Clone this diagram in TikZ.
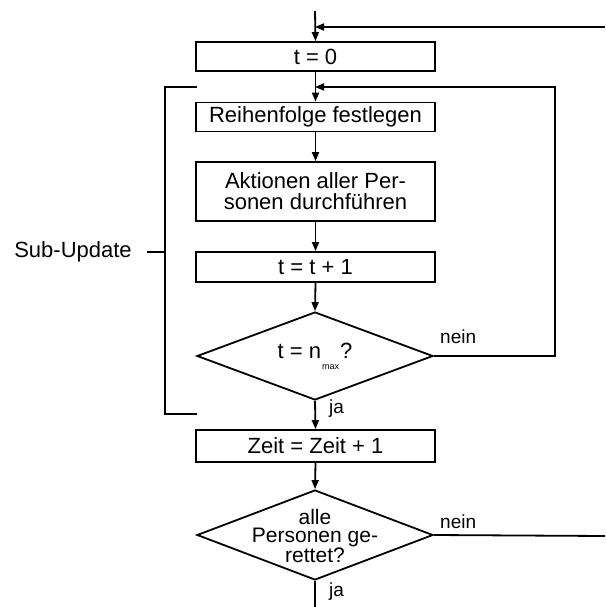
\documentclass[tikz,border=0pt]{standalone}
\usepackage{fontspec}
\setmainfont{Liberation Sans}
\usetikzlibrary{shapes.geometric,arrows.meta}
\begin{document}
\begin{tikzpicture}[x=1pt,y=-1pt,
  every node/.style={font=\fontsize{22}{21}\selectfont},
  stepbox/.style={draw,rectangle,line width=1.8pt,minimum width=239pt,inner sep=0pt,align=center},
  decbox/.style={draw,diamond,line width=1.8pt,minimum width=236pt,inner sep=0pt},
  lbl/.style={inner sep=0pt,font=\fontsize{19}{19}\selectfont},
  conn/.style={line width=1.8pt},
  arr/.style={conn,-{Triangle[length=9pt,width=7pt]}}]
\useasboundingbox (0,0) rectangle (605,607);
% boxes
\node[stepbox,minimum height=29pt] (t0) at (315.5,56.5) {t = 0};
\node[stepbox,minimum height=29pt] (rf) at (315.5,117) {Reihenfolge festlegen};
\node[stepbox,minimum height=59pt] (ak) at (315.5,191.5) {Aktionen aller Per-\\sonen durchführen};
\node[stepbox,minimum height=30pt] (t1) at (315.5,267) {t = t + 1};
\node[decbox,minimum height=88pt] (d1) at (315,356) {};
\node at (315,356) {t = n\kern1pt\raisebox{-11pt}{\fontsize{9}{9}\selectfont max}\kern1pt?};
\node[stepbox,minimum height=32pt] (zt) at (315.5,446) {Zeit = Zeit + 1};
\node[decbox,minimum height=90pt] (d2) at (315,535) {};
\node[align=center,font=\fontsize{21}{18.5}\selectfont] (d2t) at (315,536) {alle\\Personen ge-\\rettet?};
% labels
\node[lbl,anchor=west] (n1) at (440,337) {nein};
\node[lbl,anchor=west] (j1) at (329,409) {ja};
\node[lbl,anchor=west] (n2) at (440,522) {nein};
\node[lbl,anchor=west] (j2) at (329,592) {ja};
\node (su) at (73,252) {Sub-Update};
% coordinates
\coordinate (top) at (315,11);
\coordinate (inR) at (605,27);
\coordinate (join0) at (315,27);
\coordinate (join1) at (315,87);
\coordinate (rx) at (555,356);
\coordinate (outR) at (605,536);
\coordinate (bot) at (315,607);
% connectors
\draw[arr] (top) -- (t0.north);
\draw[arr] (inR) -- (join0);
\draw[arr] (t0.south) -- (rf.north);
\draw[arr] (rf.south) -- (ak.north);
\draw[arr] (ak.south) -- (t1.north);
\draw[arr] (t1.south) -- (d1.north);
\draw[arr] (d1.south) -- (zt.north);
\draw[arr] (zt.south) -- (d2.north);
\draw[conn] (d2.south) -- (bot);
\draw[arr] (d1.east) -- (rx) |- (join1);
\draw[conn] (d2.east) -- (outR);
% bracket
\draw[conn] (197,87) -- (165,87) -- (165,414) -- (197,414);
\draw[conn] (su.east) ++(12,0) coordinate (tk) -- (165,252);
\end{tikzpicture}
\end{document}
